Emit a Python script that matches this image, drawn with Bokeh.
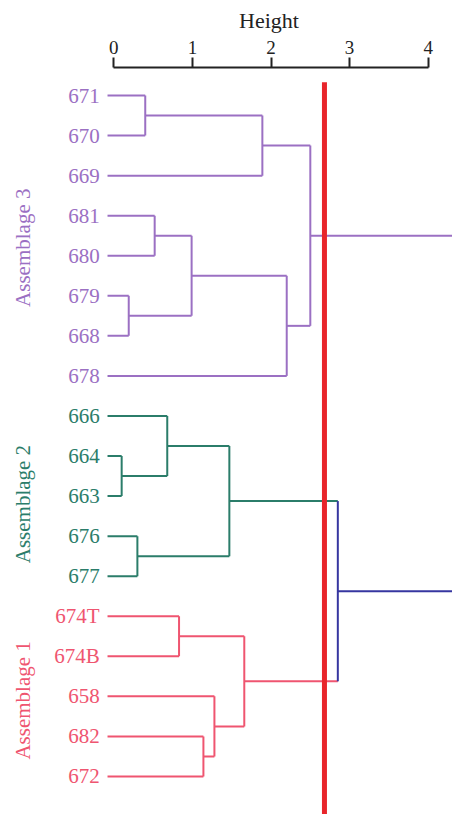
import math
from bokeh.plotting import figure
from bokeh.models import Range1d, ColumnDataSource, FixedTicker, Title
from bokeh.core.properties import value
from bokeh.embed import file_html
from bokeh.resources import INLINE

# ---------------- data ----------------
leaves = ["671", "670", "669", "681", "680", "679", "668", "678",
          "666", "664", "663", "676", "677",
          "674T", "674B", "658", "682", "672"]
leaf_group = [3, 3, 3, 3, 3, 3, 3, 3,
              2, 2, 2, 2, 2,
              1, 1, 1, 1, 1]
# merges: (child a, child b, height); new node ids start at len(leaves)
merge_a = [0, 18, 3, 5, 20, 22, 19, 9, 8, 11, 26, 13, 16, 15, 29, 28, 24]
merge_b = [1, 2, 4, 6, 21, 7, 23, 10, 25, 12, 27, 14, 17, 30, 31, 32, 33]
merge_h = [0.40, 1.89, 0.52, 0.19, 0.99, 2.20, 2.50, 0.10, 0.68, 0.30, 1.47,
           0.83, 1.14, 1.28, 1.66, 2.85, 4.60]
merge_group = [3, 3, 3, 3, 3, 3, 3, 2, 2, 2, 2, 1, 1, 1, 1, 0, 0]
cut_height = 2.68
group_names = {3: "Assemblage 3", 2: "Assemblage 2", 1: "Assemblage 1"}
axis_ticks = [0, 1, 2, 3, 4]
axis_title = "Height"

# ---------------- style ----------------
colors = {3: "#9b70c3", 2: "#2b7d6a", 1: "#ef5570", 0: "#3636a0"}
FONT = "Liberation Serif"
LEAF_X = -0.08
TITLE_SIZE = 22

# ---------------- geometry ----------------
n = len(leaves)
ypos = {i: float(i) for i in range(n)}
xpos = {i: LEAF_X for i in range(n)}
color_of = {i: colors[leaf_group[i]] for i in range(n)}
parent = {}
for k, (a, b, h, g) in enumerate(zip(merge_a, merge_b, merge_h, merge_group)):
    node = n + k
    ypos[node] = (ypos[a] + ypos[b]) / 2
    xpos[node] = h
    color_of[node] = colors[g]
    parent[a] = node
    parent[b] = node

hx0, hx1, hy, hc = [], [], [], []
for node, par in parent.items():
    hx0.append(xpos[node]); hx1.append(xpos[par]); hy.append(ypos[node]); hc.append(color_of[node])
vx, vy0, vy1, vc = [], [], [], []
for k, (a, b) in enumerate(zip(merge_a, merge_b)):
    node = n + k
    vx.append(xpos[node]); vy0.append(ypos[a]); vy1.append(ypos[b]); vc.append(color_of[node])

X0, X1 = -1.4415, 4.309
W = 452
p = figure(width=W, height=814, output_backend="svg", toolbar_location=None,
           x_range=Range1d(X0, X1), y_range=Range1d(17.95, -0.70),
           x_axis_location="above", min_border_left=0, min_border_right=0,
           min_border_bottom=0, min_border_top=67)
p.outline_line_color = None
p.xgrid.visible = False
p.ygrid.visible = False
p.yaxis.visible = False

ax = p.xaxis[0]
ax.bounds = (min(axis_ticks), max(axis_ticks))
ax.ticker = FixedTicker(ticks=axis_ticks)
ax.major_label_text_font = FONT
ax.major_label_text_font_size = "19px"
ax.major_label_text_color = "#222222"
ax.major_label_standoff = 4
ax.major_tick_out = 10
ax.major_tick_in = 0
ax.minor_tick_line_color = None
ax.axis_line_width = 2
ax.major_tick_line_width = 2
ax.axis_line_color = "#222222"
ax.major_tick_line_color = "#222222"

# axis title, left-aligned with an offset so it is centred over the axis bounds
px_per_unit = W / (X1 - X0)
mid = (min(axis_ticks) + max(axis_ticks)) / 2
approx_text_w = 2.72 * TITLE_SIZE  # width of "Height" in a Times-like face
offset = (mid - X0) * px_per_unit - approx_text_w / 2 - 2
p.add_layout(Title(text=axis_title, align="left", offset=offset, text_font=FONT,
                   text_font_size=f"{TITLE_SIZE}px", text_font_style="normal",
                   text_color="#222222", standoff=9), "above")

p.segment(x0=hx0, y0=hy, x1=hx1, y1=hy, line_color=hc, line_width=2)
p.segment(x0=vx, y0=vy0, x1=vx, y1=vy1, line_color=vc, line_width=2)

# cut line
p.segment(x0=[cut_height], y0=[-0.33], x1=[cut_height], y1=[18.5],
          line_color="#e8252b", line_width=5)

# leaf labels
src = ColumnDataSource(dict(x=[-0.18] * n, y=[ypos[i] for i in range(n)], t=leaves,
                            c=[colors[g] for g in leaf_group]))
p.text(x="x", y="y", text="t", source=src, text_color="c", text_align="right",
       text_baseline="middle", text_font=value(FONT), text_font_size="21px")

# group labels
offsets = {3: 0.3, 2: 0.2, 1: 0.1}
gx, gy, gt, gc = [], [], [], []
for g in (3, 2, 1):
    idx = [i for i in range(n) if leaf_group[i] == g]
    gx.append(-1.16)
    gy.append(sum(ypos[i] for i in idx) / len(idx) + offsets[g])
    gt.append(group_names[g])
    gc.append(colors[g])
p.text(x=gx, y=gy, text=gt, text_color=gc, angle=math.pi / 2, text_align="center",
       text_baseline="middle", text_font=value(FONT), text_font_size="21px")

open("out.html", "w").write(file_html(p, INLINE))
